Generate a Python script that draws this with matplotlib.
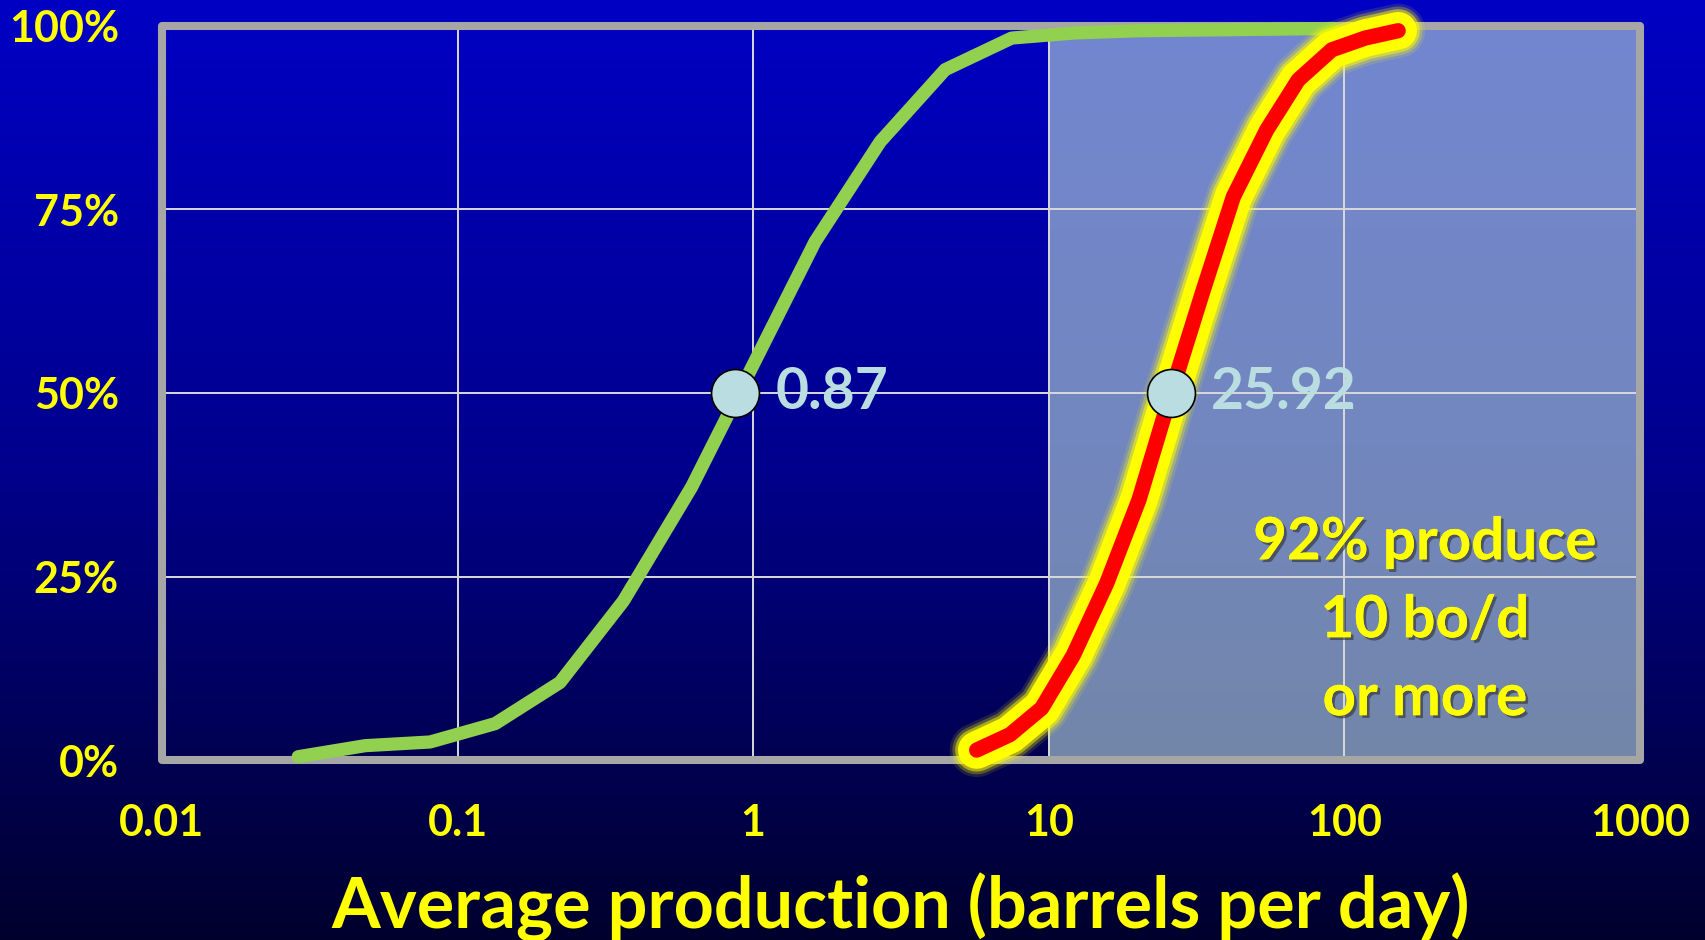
import numpy as np
import matplotlib
matplotlib.use("Agg")
import matplotlib.pyplot as plt
import matplotlib.patheffects as pe
from matplotlib.patches import Rectangle
from matplotlib.ticker import NullLocator

# cumulative share of wells vs average production (bo/d)
green_x = [0.0289, 0.0487, 0.0807, 0.134, 0.222, 0.364, 0.619, 1.62, 2.69,
           4.46, 7.49, 12.3, 20.4, 34.0, 56.0, 91.4]
green_y = [0.005, 0.020, 0.025, 0.050, 0.106, 0.217, 0.372, 0.706, 0.842,
           0.940, 0.983, 0.990, 0.993, 0.994, 0.995, 0.996]
red_x = [5.70, 7.39, 9.46, 12.1, 15.7, 20.2, 25.92, 33.3, 42.1, 54.6,
         69.8, 90.6, 117.5, 152.0]
red_y = [0.014, 0.035, 0.071, 0.143, 0.241, 0.355, 0.50, 0.640, 0.767,
         0.858, 0.926, 0.967, 0.983, 0.993]
medians = [0.87, 25.92]
median_labels = ["0.87", "25.92"]
x_ticks = [0.01, 0.1, 1, 10, 100, 1000]
x_tick_labels = ["0.01", "0.1", "1", "10", "100", "1000"]
y_ticks = [0, 0.25, 0.5, 0.75, 1.0]
y_tick_labels = ["0%", "25%", "50%", "75%", "100%"]
shade_lo, shade_hi = 10, 1000
note = "92% produce\n10 bo/d\nor more"
xlabel = "Average production (barrels per day)"

YEL = "#FFFF00"
PALE = "#B9DDE0"
FONT = ["Lato", "DejaVu Sans"]

plt.rcParams["font.family"] = FONT
fig = plt.figure(figsize=(17.05, 9.40), dpi=100)

# slide background: vertical blue gradient
bg = fig.add_axes([0, 0, 1, 1], zorder=-10)
t = np.linspace(0, 1, 400)
blue = np.interp(t, [0, 0.5, 1.0], [196, 140, 45]) / 255.0
grad = np.zeros((400, 1, 3)); grad[:, 0, 2] = blue
bg.imshow(grad, aspect="auto", extent=[0, 1, 0, 1], interpolation="bilinear")
bg.axis("off")

ax = fig.add_axes([0.0950, 0.1911, 0.8669, 0.7817])
ax.set_facecolor("none")
ax.set_xscale("log")
ax.set_xlim(0.01, 1000); ax.set_ylim(0, 1)
ax.xaxis.set_minor_locator(NullLocator())
ax.set_xticks(x_ticks); ax.set_xticklabels(x_tick_labels)
ax.set_yticks(y_ticks); ax.set_yticklabels(y_tick_labels)
for lab in ax.get_xticklabels() + ax.get_yticklabels():
    lab.set_fontweight("bold")
ax.tick_params(length=0, labelsize=31, labelcolor=YEL, pad=31)
ax.set_axisbelow(True)
ax.grid(True, color="#D9D9D9", lw=1.4)
for sp in ax.spines.values():
    sp.set_visible(False)

ax.axvspan(shade_lo, shade_hi, color=(0.69, 0.81, 0.85), alpha=0.65, lw=0, zorder=0.2)
ax.add_patch(Rectangle((0, 0), 1, 1, transform=ax.transAxes, fill=False, ec="#A6A6A6",
                       lw=5.8, joinstyle="round", clip_on=False, zorder=3))

ax.plot(green_x, green_y, color="#92D050", lw=9.5, solid_capstyle="round",
        solid_joinstyle="round", clip_on=False, zorder=4)
# red curve with a soft yellow glow
for w, a in ((39, 0.12), (35, 0.25), (31, 0.5), (27, 1.0)):
    ax.plot(red_x, red_y, color=YEL, lw=w, alpha=a, solid_capstyle="round",
            solid_joinstyle="round", clip_on=False, zorder=4)
ax.plot(red_x, red_y, color="#FF0000", lw=11, solid_capstyle="round",
        solid_joinstyle="round", clip_on=False, zorder=5)

for m, lab in zip(medians, median_labels):
    ax.plot([m], [0.5], "o", ms=34.5, mfc=PALE, mec="black", mew=1.2, zorder=6)
    ax.annotate(lab, (m, 0.5), xytext=(29, 0), textcoords="offset points",
                ha="left", va="center", fontsize=41, fontweight="bold", color=PALE, zorder=6)

ax.text(0.8545, 0.19, note, transform=ax.transAxes, ha="center", va="center",
        fontsize=42, fontweight="bold", color=YEL, linespacing=1.58, zorder=6,
        path_effects=[pe.withSimplePatchShadow(offset=(2, -2), shadow_rgbFace="#303030", alpha=0.6),
                      pe.Normal()])

fig.text(0.528, 0.0128, xlabel, ha="center", va="baseline", fontsize=50.5,
         fontweight="bold", color=YEL)

fig.savefig("out.png", dpi=100)
